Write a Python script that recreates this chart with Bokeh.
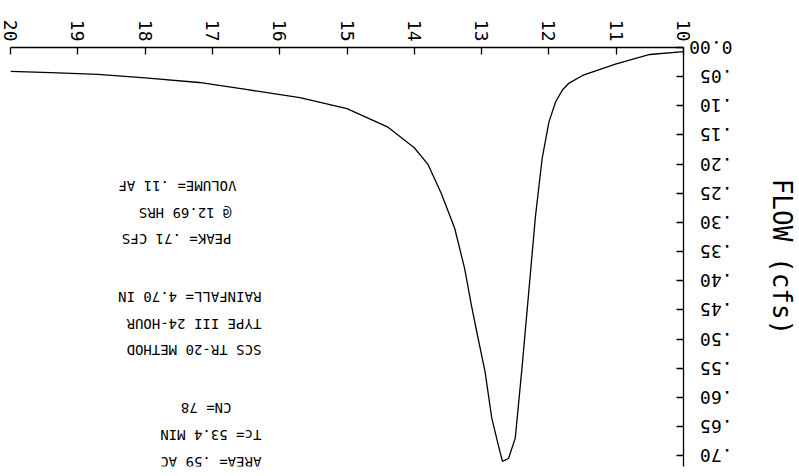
import math
from bokeh.plotting import figure
from bokeh.models import Range1d, FixedTicker, LinearAxis
from bokeh.core.properties import value
from bokeh.embed import file_html
from bokeh.resources import INLINE

# ---- data (hydrograph, hours vs cfs) ----
time_hr = [10.0, 10.5, 11.0, 11.5, 11.7, 11.8, 11.9, 12.0, 12.1, 12.2, 12.3, 12.4,
           12.5, 12.6, 12.69, 12.75, 12.85, 12.95, 13.05, 13.15, 13.25, 13.4,
           13.6, 13.8, 14.0, 14.4, 15.0, 15.7, 16.5, 17.2, 18.0, 18.7, 19.4, 20.0]
flow_cfs = [0.007, 0.012, 0.028, 0.048, 0.061, 0.073, 0.093, 0.128, 0.19, 0.29, 0.42, 0.55,
            0.67, 0.705, 0.71, 0.683, 0.635, 0.555, 0.50, 0.443, 0.38, 0.31,
            0.25, 0.20, 0.172, 0.136, 0.105, 0.086, 0.072, 0.060, 0.052, 0.046, 0.043, 0.041]

x_ticks = [10, 11, 12, 13, 14, 15, 16, 17, 18, 19, 20]
y_ticks = [0.0, 0.05, 0.10, 0.15, 0.20, 0.25, 0.30, 0.35, 0.40, 0.45, 0.50, 0.55, 0.60, 0.65, 0.70]
y_tick_labels = ["0.00", ".05", ".10", ".15", ".20", ".25", ".30", ".35", ".40", ".45",
                 ".50", ".55", ".60", ".65", ".70"]
y_title = "FLOW (cfs)"
info_lines = ["AREA= .59 AC", "Tc= 53.4 MIN", "CN= 78",
              "SCS TR-20 METHOD", "TYPE III 24-HOUR", "RAINFALL= 4.70 IN",
              "PEAK= .71 CFS", "@ 12.69 HRS", "VOLUME= .11 AF"]

# ---- layout (pixels) ----
W, H = 799, 476
L, R, T, B = 10, 686, 47, 466
PX_PER_CFS = 583.0
FONT = "DejaVu Sans Mono"
TICK_FS = 18

def t_at(px):
    return 20 - (px - L) * 10.0 / (R - L)

def q_at(py):
    return (py - T) / PX_PER_CFS

p = figure(width=W, height=H, output_backend="svg", toolbar_location=None,
           x_axis_location="above", y_axis_location="right",
           x_range=Range1d(20, 10), y_range=Range1d(q_at(B), 0),
           min_border_left=L, min_border_right=W - R,
           min_border_top=T, min_border_bottom=H - B)
p.outline_line_color = None
p.xgrid.visible = False
p.ygrid.visible = False
p.background_fill_color = "white"
p.border_fill_color = "white"

xa = p.xaxis[0]
xa.ticker = FixedTicker(ticks=x_ticks)
xa.major_label_orientation = -math.pi / 2
xa.major_tick_in = 7
xa.major_tick_out = 0
xa.minor_tick_line_color = None
xa.major_label_standoff = 6
xa.major_label_text_font = FONT
xa.major_label_text_font_size = f"{TICK_FS}px"
xa.major_label_text_color = "black"
xa.axis_line_color = "black"
xa.axis_line_width = 1.3
xa.major_tick_line_width = 1.3

ya = p.yaxis[0]
ya.ticker = FixedTicker(ticks=y_ticks)
# labels are turned upside down; pad to equal length so their outer ends line up
ya.major_label_overrides = {t: s.rjust(4) for t, s in zip(y_ticks, y_tick_labels)}
ya.major_label_orientation = math.pi
ya.major_tick_in = 7
ya.major_tick_out = 0
ya.minor_tick_line_color = None
ya.major_label_standoff = int(6 + 4 * 0.602 * TICK_FS)
ya.major_label_text_font = FONT
ya.major_label_text_font_size = f"{TICK_FS}px"
ya.major_label_text_color = "black"
ya.axis_line_color = "black"
ya.axis_line_width = 1.3
ya.major_tick_line_width = 1.3

# title-only axis, bounded so its label sits a little above the middle
ta = LinearAxis(bounds=(0.0, q_at(435)), ticker=FixedTicker(ticks=[]),
                axis_line_color=None, major_tick_line_color=None,
                minor_tick_line_color=None, major_label_text_font_size="0px",
                major_label_standoff=0, axis_label=y_title,
                axis_label_text_font=FONT, axis_label_text_font_size="26px",
                axis_label_text_font_style="normal", axis_label_text_color="black",
                axis_label_standoff=-12)
p.add_layout(ta, "right")

p.line(time_hr, flow_cfs, line_color="black", line_width=1.3)

# info block, rotated 180 degrees
anchor_px = [262, 262, 232, 262, 262, 262, 232, 232, 237]
anchor_py = [461, 434, 407, 349, 323, 296, 238, 212, 185]
p.text(x=[t_at(v) for v in anchor_px], y=[q_at(v) for v in anchor_py], text=info_lines,
       angle=math.pi, text_align="left", text_baseline="middle",
       text_font=value(FONT), text_font_size="14px", text_color="black")

open("out.html", "w").write(file_html(p, INLINE))
